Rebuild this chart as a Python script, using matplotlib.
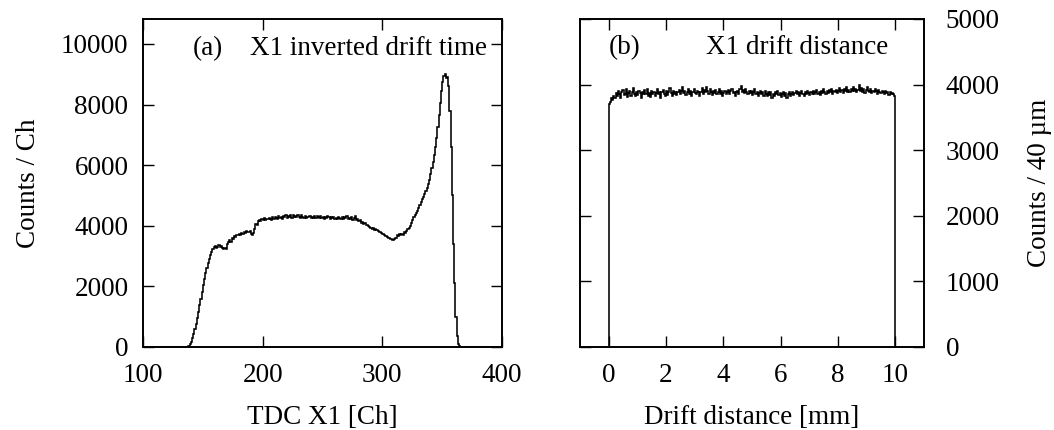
import numpy as np
import matplotlib
matplotlib.use("Agg")
import matplotlib.pyplot as plt

# ---------------- data ----------------
# Panel (a): TDC X1 histogram, 1-Ch bins from 100 to 400 (counts per Ch)
tdc_edges_start = 100
tdc_bin_width = 1
tdc_low_zeros = [0] * 37          # channels 100..136
tdc_signal = [                    # channels 137..364
    15, 40, 90, 180, 300, 430, 580, 750, 950, 1150,
    1380, 1600, 1820, 2050, 2250, 2450, 2620, 2780, 2920, 3050,
    3150, 3230, 3290, 3330, 3280, 3310, 3350, 3290, 3340, 3260,
    3230, 3280, 3250, 3390, 3450, 3520, 3480, 3600, 3570, 3650,
    3620, 3700, 3680, 3730, 3700, 3760, 3740, 3800, 3770, 3820,
    3790, 3800, 3840, 3730, 3710, 3760, 3900, 4050, 4020, 4150,
    4190, 4160, 4230, 4200, 4250, 4180, 4230, 4210, 4260, 4240,
    4190, 4280, 4230, 4300, 4250, 4210, 4330, 4270, 4290, 4240,
    4320, 4280, 4350, 4260, 4310, 4290, 4340, 4270, 4360, 4300,
    4330, 4280, 4350, 4290, 4260, 4340, 4300, 4270, 4320, 4260,
    4300, 4280, 4330, 4250, 4290, 4270, 4310, 4260, 4320, 4280,
    4250, 4330, 4270, 4290, 4240, 4300, 4260, 4310, 4280, 4230,
    4290, 4250, 4300, 4220, 4270, 4240, 4300, 4260, 4210, 4280,
    4230, 4290, 4250, 4310, 4240, 4270, 4220, 4290, 4200, 4260,
    4310, 4180, 4230, 4150, 4190, 4100, 4130, 4060, 4090, 4010,
    4040, 3990, 3960, 3940, 3910, 3920, 3870, 3890, 3850, 3830,
    3800, 3780, 3750, 3720, 3700, 3670, 3650, 3620, 3600, 3570,
    3580, 3540, 3520, 3560, 3600, 3680, 3650, 3720, 3700, 3740,
    3710, 3790, 3760, 3830, 3880, 3920, 3980, 4080, 4180, 4280,
    4350, 4420, 4500, 4600, 4680, 4800, 4880, 4960, 5050, 5150,
    5260, 5380, 5520, 5700, 5900, 6100, 6350, 6600, 6900, 7250,
    7650, 8050, 8450, 8750, 8950, 9000, 8880, 8900, 8600, 7800,
    6600, 5000, 3400, 2100, 1000, 350, 90, 20,
]
tdc_high_zeros = [0] * 35         # channels 365..399
tdc_counts = tdc_low_zeros + tdc_signal + tdc_high_zeros

# Panel (b): drift distance histogram, 0-10 mm, 40 um bins
drift_start = 0.0
drift_bin_width = 0.04
drift_counts = [
    3700, 3740, 3790, 3760, 3830, 3800, 3870, 3820, 3900, 3850,
    3790, 3880, 3920, 3840, 3860, 3930, 3810, 3870, 3900, 3830,
    3880, 3950, 3860, 3820, 3890, 3840, 3910, 3870, 3800, 3880,
    3850, 3920, 3860, 3940, 3830, 3870, 3810, 3900, 3860, 3890,
    3820, 3870, 3930, 3850, 3890, 3800, 3880, 3920, 3860, 3830,
    3900, 3840, 3880, 3950, 3870, 3820, 3910, 3860, 3890, 3840,
    3880, 3920, 3850, 3900, 3960, 3870, 3910, 3840, 3890, 3930,
    3860, 3900, 3820, 3880, 3940, 3870, 3850, 3910, 3880, 3830,
    3890, 3950, 3860, 3920, 3880, 3970, 3900, 3860, 3930, 3880,
    3840, 3900, 3870, 3920, 3850, 3890, 3940, 3860, 3900, 3830,
    3870, 3910, 3850, 3880, 3920, 3860, 3900, 3940, 3870, 3890,
    3830, 3880, 3910, 3860, 3940, 3980, 3890, 3920, 3870, 3930,
    3880, 3850, 3910, 3870, 3900, 3840, 3880, 3930, 3860, 3890,
    3820, 3870, 3910, 3850, 3880, 3830, 3900, 3860, 3820, 3880,
    3840, 3890, 3800, 3860, 3830, 3880, 3850, 3900, 3840, 3870,
    3810, 3860, 3890, 3830, 3870, 3800, 3850, 3880, 3830, 3860,
    3890, 3840, 3870, 3910, 3850, 3880, 3830, 3870, 3900, 3860,
    3830, 3880, 3850, 3900, 3870, 3840, 3890, 3860, 3910, 3850,
    3880, 3920, 3860, 3890, 3840, 3900, 3870, 3930, 3880, 3850,
    3900, 3870, 3920, 3880, 3940, 3860, 3900, 3880, 3920, 3870,
    3910, 3950, 3880, 3920, 3870, 3930, 3900, 3960, 3890, 3920,
    3880, 3940, 3910, 3970, 3900, 3940, 3880, 3920, 3990, 3910,
    3950, 3890, 3930, 3870, 3920, 3960, 3900, 3880, 3930, 3870,
    3910, 3880, 3940, 3900, 3860, 3920, 3890, 3870, 3910, 3880,
    3850, 3900, 3870, 3890, 3840, 3880, 3860, 3870, 3850, 3830,
]

tdc_xticks = [100, 200, 300, 400]
tdc_yticks = [0, 2000, 4000, 6000, 8000, 10000]
drift_xticks = [0, 2, 4, 6, 8, 10]
drift_yticks = [0, 1000, 2000, 3000, 4000, 5000]

# ---------------- style ----------------
plt.rcParams['font.family'] = ['Liberation Serif', 'DejaVu Serif']
FS = 19.5

W, H = 1054, 430
fig = plt.figure(figsize=(W / 100, H / 100), dpi=100)

ax1 = fig.add_axes([143 / W, 83 / H, 359 / W, 328 / H])
ax2 = fig.add_axes([580 / W, 83 / H, 344 / W, 328 / H])

tdc_edges = tdc_edges_start + tdc_bin_width * np.arange(len(tdc_counts) + 1)
drift_edges = drift_start + drift_bin_width * np.arange(len(drift_counts) + 1)

ax1.stairs(tdc_counts, tdc_edges, baseline=0, color='black', linewidth=1.15)
ax2.stairs(drift_counts, drift_edges, baseline=0, color='black', linewidth=1.15)

ax1.set_xlim(100, 400)
ax1.set_ylim(0, 10825)
ax2.set_xlim(-1, 11)
ax2.set_ylim(0, 5000)

for ax in (ax1, ax2):
    for s in ax.spines.values():
        s.set_linewidth(1.4)
    ax.tick_params(direction='in', length=8, width=1.0, top=True, right=True,
                   labelsize=FS)

ax1.set_xticks(tdc_xticks)
ax1.set_yticks(tdc_yticks)
ax1.tick_params(axis='y', pad=10.5)
ax1.tick_params(axis='x', pad=11.5)

ax2.set_xticks(drift_xticks)
ax2.set_yticks(drift_yticks)
ax2.tick_params(axis='y', left=True, right=True, labelleft=False, labelright=True, pad=15.5)
ax2.tick_params(axis='x', pad=11.5)

ax1.set_xlabel('TDC X1 [Ch]', fontsize=FS, labelpad=12.5)
ax1.set_ylabel('Counts / Ch', fontsize=FS, labelpad=14)
ax2.set_xlabel('Drift distance [mm]', fontsize=FS, labelpad=12.5)
ax2.yaxis.set_label_position('right')
ax2.set_ylabel('Counts / 40 µm', fontsize=FS, labelpad=20)

ax1.text(141.7, 9636, '(a)', fontsize=FS, va='baseline', ha='left')
ax1.text(189, 9636, 'X1 inverted drift time', fontsize=FS, va='baseline', ha='left')
ax2.text(0.0, 4459, '(b)', fontsize=FS, va='baseline', ha='left')
ax2.text(3.4, 4459, 'X1 drift distance', fontsize=FS, va='baseline', ha='left')

fig.savefig('out.png', dpi=100)
